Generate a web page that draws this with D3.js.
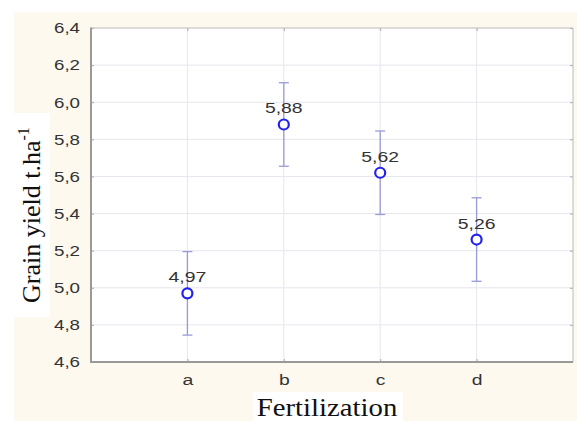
<!DOCTYPE html>
<html><head><meta charset="utf-8">
<script src="https://cdn.jsdelivr.net/npm/d3@7"></script>
<style>html,body{margin:0;padding:0;background:#fff;}svg{display:block;}</style>
</head><body>
<svg id="c" width="577" height="421"></svg>
<script>
const categories = ["a", "b", "c", "d"];
const means = [4.97, 5.88, 5.62, 5.26];
const lower = [4.745, 5.655, 5.395, 5.035];
const upper = [5.195, 6.105, 5.845, 5.485];
const yTicks = [4.6, 4.8, 5.0, 5.2, 5.4, 5.6, 5.8, 6.0, 6.2, 6.4];

const svg = d3.select("#c");
const L = 91, R = 573, T = 28, B = 362;
const SX = 1.25;
const fmt = v => d3.format(".2f")(v).replace(".", ",");
const fmt1 = v => d3.format(".1f")(v).replace(".", ",");
const sans = "Arial, 'Liberation Sans', sans-serif";

// background
svg.append("rect").attr("x", 14).attr("y", 12).attr("width", 563).attr("height", 409).attr("fill", "#fdf9ef");

const x = d3.scaleLinear().domain([0, categories.length + 1]).range([L, R]);
const y = d3.scaleLinear().domain([4.6, 6.4]).range([B, T]);

svg.append("rect").attr("x", L).attr("y", T).attr("width", R - L).attr("height", B - T).attr("fill", "#fff");

// grid
const g = svg.append("g");
g.selectAll("line.gy").data(yTicks.slice(1, -1)).join("line")
  .attr("x1", L).attr("x2", R).attr("y1", d => y(d)).attr("y2", d => y(d))
  .attr("stroke", "#e6e6ee").attr("stroke-width", 1);
g.selectAll("line.gx").data(categories).join("line")
  .attr("x1", (d, i) => x(i + 1)).attr("x2", (d, i) => x(i + 1)).attr("y1", T).attr("y2", B)
  .attr("stroke", "#e6e6ee").attr("stroke-width", 1);

function stretch(sel) {
  sel.each(function() {
    const t = d3.select(this);
    const ox = +t.attr("x") || 0;
    t.attr("x", ox / SX).attr("transform", `scale(${SX},1)`);
  });
}

// axes
const yAxis = d3.axisLeft(y).tickValues(yTicks).tickFormat(fmt1).tickSize(-3).tickPadding(11);
const ya = svg.append("g").attr("transform", `translate(${L},0)`).call(yAxis);
ya.select(".domain").remove();
ya.selectAll("line").attr("stroke", "#aaa");
ya.selectAll("text").attr("font-family", sans).attr("font-size", 15).attr("fill", "#333").call(stretch);

const yAxisR = d3.axisRight(y).tickValues(yTicks).tickFormat("").tickSize(-3);
const yr = svg.append("g").attr("transform", `translate(${R},0)`).call(yAxisR);
yr.select(".domain").remove();
yr.selectAll("line").attr("stroke", "#aaa");

const xAxis = d3.axisBottom(x).tickValues(categories.map((d, i) => i + 1)).tickFormat(v => categories[v - 1]).tickSize(-3).tickPadding(12);
const xa = svg.append("g").attr("transform", `translate(0,${B})`).call(xAxis);
xa.select(".domain").remove();
xa.selectAll("line").attr("stroke", "#aaa");
xa.selectAll("text").attr("font-family", sans).attr("font-size", 15.5).attr("fill", "#333").call(stretch);

const xAxisT = d3.axisTop(x).tickValues(categories.map((d, i) => i + 1)).tickFormat("").tickSize(-3);
const xt = svg.append("g").attr("transform", `translate(0,${T})`).call(xAxisT);
xt.select(".domain").remove();
xt.selectAll("line").attr("stroke", "#aaa");

// frame
svg.append("line").attr("x1", L).attr("x2", R).attr("y1", T).attr("y2", T).attr("stroke", "#bbb").attr("stroke-width", 1);
svg.append("line").attr("x1", R).attr("x2", R).attr("y1", T).attr("y2", B).attr("stroke", "#bbb").attr("stroke-width", 1);
svg.append("line").attr("x1", L).attr("x2", L).attr("y1", T - 0.5).attr("y2", B + 1).attr("stroke", "#999").attr("stroke-width", 2);
svg.append("line").attr("x1", L).attr("x2", R).attr("y1", B).attr("y2", B).attr("stroke", "#999").attr("stroke-width", 2);

// error bars
const eb = svg.append("g").attr("stroke", "#9a9ad8").attr("stroke-width", 1.3);
categories.forEach((c, i) => {
  const cx = x(i + 1);
  eb.append("line").attr("x1", cx).attr("x2", cx).attr("y1", y(lower[i])).attr("y2", y(upper[i]));
  eb.append("line").attr("x1", cx - 5).attr("x2", cx + 5).attr("y1", y(lower[i])).attr("y2", y(lower[i]));
  eb.append("line").attr("x1", cx - 5).attr("x2", cx + 5).attr("y1", y(upper[i])).attr("y2", y(upper[i]));
});

// markers
svg.append("g").selectAll("circle").data(means).join("circle")
  .attr("cx", (d, i) => x(i + 1)).attr("cy", d => y(d)).attr("r", 5)
  .attr("fill", "#fff").attr("stroke", "#2222ee").attr("stroke-width", 2.2);

// value labels
svg.append("g").selectAll("text").data(means).join("text")
  .attr("transform", (d, i) => `translate(${x(i + 1)},${y(d) - 11}) scale(${SX},1)`)
  .attr("text-anchor", "middle").attr("font-family", sans)
  .attr("font-size", 15.5).attr("fill", "#333").text(fmt);

// titles
svg.append("rect").attr("x", 0).attr("y", 113).attr("width", 50).attr("height", 204).attr("fill", "#fff");
const yt = svg.append("text").attr("transform", "translate(40,303) rotate(-90)")
  .attr("text-anchor", "start").attr("font-family", "'Liberation Serif', 'Times New Roman', serif")
  .attr("font-size", 26).attr("fill", "#111");
yt.append("tspan").text("Grain yield t.ha");
yt.append("tspan").attr("dy", -11).attr("font-size", 16).text("-1");

svg.append("rect").attr("x", 253).attr("y", 392).attr("width", 150).attr("height", 29).attr("fill", "#fff");
svg.append("text").attr("transform", "translate(327,416) scale(1.15,1)").attr("text-anchor", "middle")
  .attr("font-family", "'Liberation Serif', 'Times New Roman', serif").attr("font-size", 25).attr("fill", "#111")
  .text("Fertilization");
</script>
</body></html>
